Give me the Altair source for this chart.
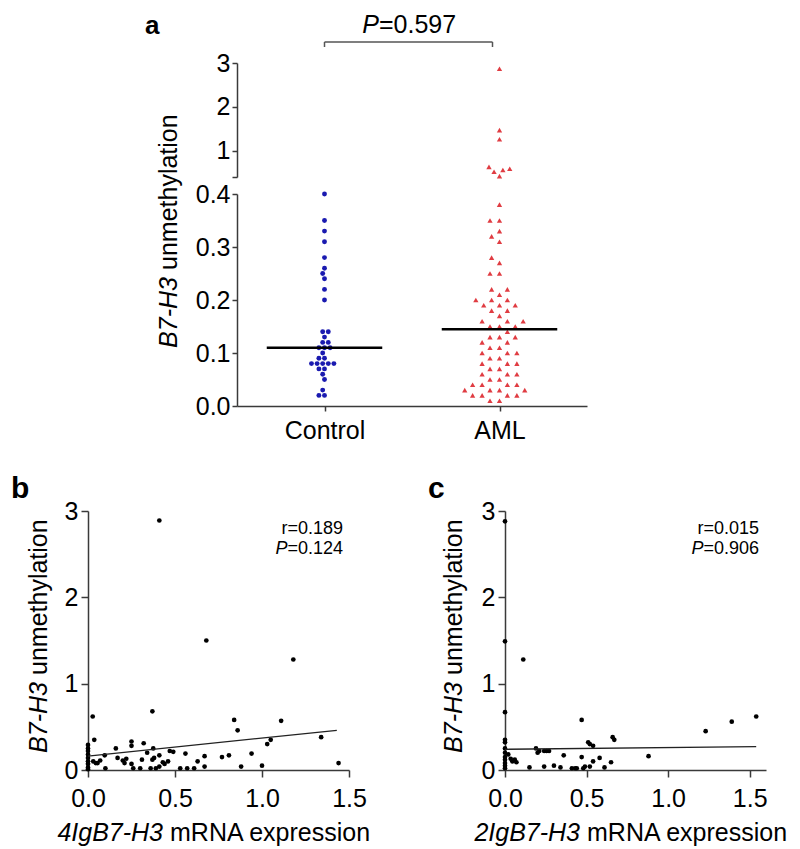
import math
import altair as alt
import pandas as pd

FONT = "Liberation Sans"

# ---------------- data ----------------
groups = ["Control", "AML"]
control_vals = [0.40, 0.35, 0.33, 0.31, 0.28, 0.26, 0.25, 0.24, 0.22, 0.20,
                0.14, 0.14, 0.13, 0.12, 0.12, 0.11, 0.11, 0.11, 0.10, 0.09, 0.09,
                0.08, 0.08, 0.08, 0.08, 0.08, 0.07, 0.07, 0.06, 0.05, 0.03, 0.02, 0.02]
aml_vals = [2.87, 1.47, 1.26, 0.63, 0.59, 0.56, 0.52, 0.42,
            0.38, 0.35, 0.35, 0.33, 0.32, 0.31, 0.28, 0.27, 0.25, 0.25, 0.22, 0.22,
            0.21, 0.20, 0.20, 0.20, 0.19, 0.19, 0.19, 0.18, 0.18, 0.17, 0.16, 0.16, 0.16,
            0.15, 0.15, 0.15, 0.14, 0.13, 0.13, 0.13, 0.12, 0.12, 0.11, 0.11, 0.10, 0.10, 0.10,
            0.09, 0.09, 0.08, 0.08, 0.08, 0.07, 0.07, 0.06, 0.06, 0.06, 0.05, 0.05,
            0.04, 0.04, 0.04, 0.04, 0.03, 0.03, 0.03, 0.03, 0.02, 0.02, 0.02, 0.02, 0.01, 0.01]
group_medians = [0.11, 0.145]
p_group = "=0.597"
bracket_ends = [0.0, 0.96]

b_x = [0, 0, 0, 0, 0, 0, 0, 0, 0,
       0.027, 0.036, 0.055, 0.07, 0.096, 0.10, 0.16, 0.17, 0.21, 0.22, 0.25, 0.25, 0.25,
       0.26, 0.31, 0.32, 0.34, 0.30, 0.37, 0.375, 0.37, 0.38, 0.36, 0.39, 0.41, 0.41,
       0.43, 0.47, 0.49, 0.53, 0.56, 0.57, 0.61, 0.63, 0.67, 0.67, 0.77, 0.81, 0.84,
       0.86, 0.88, 0.94, 1.00, 1.03, 1.05, 1.11, 1.18, 1.34, 1.44, 0.68, 0.41,
       0.03, 0.045, 0.2, 0.44, 0.46]
b_y = [0.29, 0.25, 0.22, 0.18, 0.14, 0.10, 0.07, 0.03, 0.01,
       0.62, 0.35, 0.08, 0.11, 0.17, 0.02, 0.25, 0.14, 0.08, 0.13, 0.33, 0.28, 0.07,
       0.02, 0.12, 0.31, 0.20, 0.02, 0.68, 0.25, 0.12, 0.14, 0.02, 0.02, 0.04, 0.17,
       0.09, 0.22, 0.21, 0.02, 0.19, 0.02, 0.02, 0.10, 0.16, 0.04, 0.15, 0.17, 0.58,
       0.46, 0.04, 0.19, 0.05, 0.30, 0.35, 0.57, 1.28, 0.38, 0.08, 1.50, 2.89,
       0.10, 0.08, 0.11, 0.07, 0.10]
b_fit_x = [0.0, 1.43]
b_fit_y = [0.16, 0.46]
b_stats = ["r=0.189", "=0.124"]

c_x = [0, 0, 0.112, 0, 0, 0, 0, 0, 0, 0, 0, 0, 0,
       0.02, 0.035, 0.045, 0.06, 0.07, 0.15, 0.19, 0.20, 0.21, 0.24, 0.255, 0.27,
       0.24, 0.30, 0.34, 0.36, 0.41, 0.43, 0.44, 0.48, 0.49, 0.47, 0.47, 0.51, 0.52,
       0.54, 0.52, 0.54, 0.58, 0.61, 0.65, 0.66, 0.67, 0.88, 1.23, 1.39, 1.54]
c_y = [2.88, 1.49, 1.28, 0.67, 0.35, 0.32, 0.25, 0.20, 0.15, 0.12, 0.08, 0.05, 0.02,
       0.18, 0.13, 0.10, 0.12, 0.09, 0.03, 0.25, 0.20, 0.22, 0.22, 0.22, 0.22,
       0.04, 0.05, 0.03, 0.17, 0.02, 0.02, 0.02, 0.02, 0.04, 0.58, 0.15, 0.32, 0.30,
       0.28, 0.04, 0.10, 0.14, 0.03, 0.09, 0.38, 0.35, 0.16, 0.45, 0.56, 0.62]
c_fit_x = [0.0, 1.54]
c_fit_y = [0.24, 0.27]
c_stats = ["r=0.015", "=0.906"]

# ---------------- layout constants ----------------
A_W, A_H = 350, 343          # panel a plot area (both segments)
LO_RANGE = [343, 131]        # lower segment pixel range
HI_RANGE = [114, 0]          # upper segment pixel range
BREAK = 0.4
X_PPU = A_W / 2.0
LO_PPU = (LO_RANGE[0] - LO_RANGE[1]) / BREAK
HI_PPU = (HI_RANGE[0] - HI_RANGE[1]) / (3 - BREAK)
S_W, S_H = 261, 259
GAP = 7                      # width of a word space at 25px

BLUE = "#1a1ab0"
RED = "#e03c42"
AX = "#3a3a3a"


def swarm(values, ppu_y, d):
    """Simple beeswarm: horizontal pixel offsets avoiding overlap."""
    placed, offs = [], []
    for v in values:
        y = v * ppu_y
        cands = [0.0]
        for px, py in placed:
            dy = abs(py - y)
            if dy < d:
                dx = math.sqrt(d * d - dy * dy)
                cands += [px + dx, px - dx]
        cands.sort(key=lambda c: (abs(c), c))
        chosen = 0.0
        for c in cands:
            if all((c - px) ** 2 + (y - py) ** 2 >= d * d - 1e-6 for px, py in placed):
                chosen = c
                break
        placed.append((chosen, y))
        offs.append(chosen / X_PPU)
    return offs


def build(vals, idx, ppu, d):
    vs = sorted(vals)
    offs = swarm(vs, ppu, d)
    return pd.DataFrame({"x": [idx + o for o in offs], "v": vs})


ctrl_lo = build([v for v in control_vals if v <= BREAK], 0, LO_PPU, 5.6)
aml_lo = build([v for v in aml_vals if v <= BREAK], 1, LO_PPU, 9.5)
aml_hi = build([v for v in aml_vals if v > BREAK], 1, HI_PPU, 7.0)


def txt(text, x, y, size, align="left", baseline="alphabetic", angle=0,
        italic=False, bold=False):
    kw = dict(align=align, baseline=baseline, fontSize=size, font=FONT, color="black")
    if angle:
        kw["angle"] = angle
    if italic:
        kw["fontStyle"] = "italic"
    if bold:
        kw["fontWeight"] = "bold"
    return alt.Chart(pd.DataFrame({"t": [text]})).mark_text(**kw).encode(
        text="t:N", x=alt.value(x), y=alt.value(y))


def anchor(x, y):
    return alt.Chart(pd.DataFrame({"k": [0]})).mark_point(size=1, opacity=0).encode(
        x=alt.value(x), y=alt.value(y))


# ---------------- panel a ----------------
XS = alt.Scale(domain=[-0.5, 1.5], nice=False, zero=False)
x_axis_a = alt.Axis(values=[0, 1], labelExpr="datum.value == 0 ? 'Control' : 'AML'",
                    title=None, tickSize=5, labelPadding=7, labelFlush=False,
                    labelOverlap=False, grid=False)


def lo_scale():
    return alt.Scale(domain=[0, BREAK], range=LO_RANGE, nice=False, zero=False)


lo_axis = alt.Axis(orient="left", values=[0, 0.1, 0.2, 0.3, 0.4], format=".1f",
                   title=None, tickSize=5, labelPadding=2, grid=False, labelOverlap=False)
hi_axis = alt.Axis(orient="left", values=[0.4, 1, 2, 3],
                   labelExpr="datum.value < 0.5 ? '' : format(datum.value, 'd')",
                   title=None, tickSize=5, labelPadding=2, grid=False, labelOverlap=False)

l_ctrl = alt.Chart(ctrl_lo).mark_point(filled=True, opacity=1, size=24, shape="circle",
                                       color=BLUE).encode(
    x=alt.X("x:Q", scale=XS, axis=x_axis_a),
    y=alt.Y("v:Q", scale=lo_scale(), axis=lo_axis))
l_aml = alt.Chart(aml_lo).mark_point(filled=True, opacity=1, size=28, shape="triangle-up",
                                     color=RED).encode(
    x=alt.X("x:Q", scale=XS, axis=x_axis_a),
    y=alt.Y("v:Q", scale=lo_scale(), axis=None))
l_hi = alt.Chart(aml_hi).mark_point(filled=True, opacity=1, size=28, shape="triangle-up",
                                    color=RED).encode(
    x=alt.X("x:Q", scale=XS, axis=x_axis_a),
    y=alt.Y("v:Q", scale=alt.Scale(domain=[BREAK, 3], range=HI_RANGE, nice=False, zero=False),
            axis=hi_axis))
med_df = pd.DataFrame({"idx": [0, 1], "m": group_medians})
l_med = alt.Chart(med_df).transform_calculate(
    x1="datum.idx - 0.33", x2="datum.idx + 0.33").mark_rule(
    color="black", strokeWidth=2.5).encode(
    x=alt.X("x1:Q", scale=XS, axis=x_axis_a), x2="x2:Q",
    y=alt.Y("m:Q", scale=lo_scale(), axis=None))
br_df = pd.DataFrame({"a": [bracket_ends[0]], "b": [bracket_ends[1]]})
l_br = alt.Chart(br_df).mark_rule(color="#555555", strokeWidth=1.5).encode(
    x=alt.X("a:Q", scale=XS, axis=x_axis_a), x2="b:Q", y=alt.value(-21))
br_ticks = pd.DataFrame({"e": bracket_ends})
l_brt = alt.Chart(br_ticks).mark_rule(color="#555555", strokeWidth=1.5).encode(
    x=alt.X("e:Q", scale=XS, axis=x_axis_a), y=alt.value(-21), y2=alt.value(-16))

panel_a = alt.layer(
    l_ctrl, l_aml, l_hi, l_med, l_br, l_brt,
    txt("P", 142, -30, 25, align="right", italic=True),
    txt(p_group, 142, -30, 25, align="left"),
    txt("a", -92, -29.5, 26, bold=True),
    txt("B7-H3", -68, 214, 25, align="right", baseline="middle", angle=270, italic=True),
    txt("unmethylation", -68, 214 - GAP, 25, align="left", baseline="middle", angle=270),
    anchor(-147, -54), anchor(0, 408),
).resolve_scale(y="independent").properties(width=A_W, height=A_H)

# tiny invisible spacer so that panel a is offset from panel b's origin
spacer = alt.Chart(pd.DataFrame({"k": [0]})).mark_point(size=1, opacity=0).encode(
    x=alt.value(0), y=alt.value(0)).properties(width=1, height=1)


# ---------------- panels b, c ----------------
def scatter(xs, ys, fx, fy, xdom, stats, label, gene, tx, ty_rel, sx, rx):
    df = pd.DataFrame({"x": xs, "y": ys})
    fit = pd.DataFrame({"x": fx, "y": fy})
    xsc = alt.Scale(domain=xdom, nice=False, zero=False)
    ysc = alt.Scale(domain=[0, 3], nice=False, zero=False)
    xa = alt.Axis(values=[0, 0.5, 1, 1.5], format=".1f", title=None, tickSize=7,
                  labelPadding=9, labelFlush=False, labelOverlap=False, grid=False)
    ya = alt.Axis(values=[0, 1, 2, 3], format="d", title=None, tickSize=7,
                  labelPadding=3, labelFlush=False, labelOverlap=False, grid=False)
    pts = alt.Chart(df).mark_point(filled=True, opacity=1, size=22, color="black").encode(
        x=alt.X("x:Q", scale=xsc, axis=xa), y=alt.Y("y:Q", scale=ysc, axis=ya))
    line = alt.Chart(fit).mark_line(color="#222222", strokeWidth=1.3).encode(
        x=alt.X("x:Q", scale=xsc, axis=xa), y=alt.Y("y:Q", scale=ysc, axis=ya))
    return [
        pts, line,
        txt(stats[0], rx, 22.5, 18, align="right"),
        txt(stats[1], rx, 42.7, 18, align="right"),
        txt("P", rx - 55.5, 42.7, 18, align="right", italic=True),
        txt(label, -77, -13, 30, bold=True),
        txt("B7-H3", tx, ty_rel, 25, align="right", baseline="middle", angle=270, italic=True),
        txt("unmethylation", tx, ty_rel - GAP, 25, align="left", baseline="middle", angle=270),
        txt(gene, sx, 330, 25, align="right", italic=True),
        txt("mRNA expression", sx + GAP, 330, 25, align="left"),
    ]


panel_b = alt.layer(
    *scatter(b_x, b_y, b_fit_x, b_fit_y, [0, 1.5], b_stats, "b", "4IgB7-H3",
             -49.5, 171, 75, 255),
    anchor(-79, -38), anchor(313, -38),
).properties(width=S_W, height=S_H)
panel_c = alt.layer(
    *scatter(c_x, c_y, c_fit_x, c_fit_y, [0, 1.6], c_stats, "c", "2IgB7-H3",
             -51, 171, 75, 254),
    anchor(-102, -38),
).properties(width=S_W, height=S_H)

top = alt.hconcat(spacer, panel_a, spacing=0)
bottom = alt.hconcat(panel_b, panel_c, spacing=0).resolve_scale(x="independent", y="independent")

chart = alt.vconcat(top, bottom, spacing=0).properties(padding=0).configure_view(
    stroke=None
).configure_axis(
    domainColor=AX, tickColor=AX, domainWidth=1.5, tickWidth=1.5,
    labelFont=FONT, labelFontSize=25, labelColor="black", grid=False
)

chart.save("out.html", embed_options={"renderer": "svg", "actions": False})
